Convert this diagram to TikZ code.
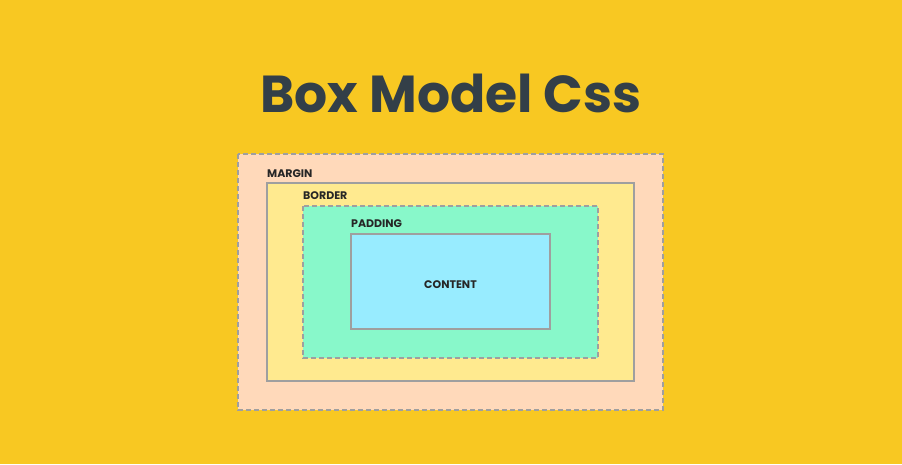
\documentclass[tikz,border=0pt]{standalone}
\usepackage{fontspec}
\setmainfont{Poppins}
\begin{document}
\begin{tikzpicture}[x=1pt,y=-1pt,
  box/.style={draw=gray!75,line width=1.2pt},
  dbox/.style={box,dash pattern=on 5pt off 3pt},
  lbl/.style={font=\bfseries\fontsize{11}{13}\selectfont,text=black!85,anchor=base west,inner sep=0pt}]
\definecolor{bg}{HTML}{F8C822}
\definecolor{marg}{HTML}{FFD9BA}
\definecolor{bord}{HTML}{FFEA8F}
\definecolor{padd}{HTML}{88F8CA}
\definecolor{cont}{HTML}{98ECFF}
\definecolor{ttl}{HTML}{333F48}
\fill[bg] (0,0) rectangle (902,464);
\useasboundingbox (0,0) rectangle (902,464);
\node[text=ttl,font=\bfseries\fontsize{52}{56}\selectfont,anchor=base,inner sep=0pt] (title) at (451,112.5) {Box Model Css};
\draw[dbox,fill=marg] (238,154) rectangle (663,410);
\draw[box,fill=bord] (267,183) rectangle (634,381);
\draw[dbox,fill=padd] (303,206) rectangle (598,358);
\draw[box,fill=cont] (351,234) rectangle (550,329);
\node[lbl] (m) at (267,177) {MARGIN};
\node[lbl] (b) at (303,199) {BORDER};
\node[lbl] (p) at (351,227) {PADDING};
\node[lbl,anchor=base] (c) at (450.5,288) {CONTENT};
\end{tikzpicture}
\end{document}
